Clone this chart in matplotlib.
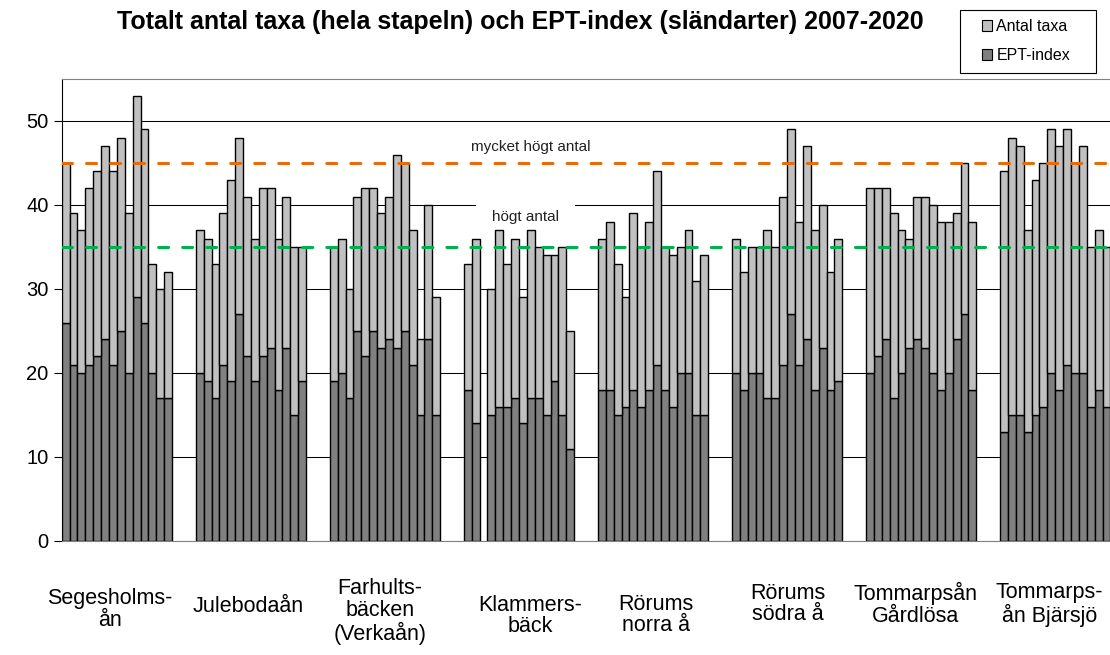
import matplotlib.pyplot as plt
import numpy as np
from matplotlib.patches import Patch, Rectangle

plt.rcParams['font.family'] = ['Liberation Sans', 'DejaVu Sans']
plt.rcParams['lines.scale_dashes'] = False

# one bar per year 2007-2020 for each site
years = [2007, 2008, 2009, 2010, 2011, 2012, 2013, 2014, 2015, 2016, 2017, 2018, 2019, 2020]

sites = ['Segesholms-\nån', 'Julebodaån', 'Farhults-\nbäcken\n(Verkaån)', 'Klammers-\nbäck',
         'Rörums\nnorra å', 'Rörums\nsödra å', 'Tommarpsån\nGårdlösa', 'Tommarps-\nån Bjärsjö']

# total number of taxa (whole bar)
seg_total = [45, 39, 37, 42, 44, 47, 44, 48, 39, 53, 49, 33, 30, 32]
jul_total = [37, 36, 33, 39, 43, 48, 41, 36, 42, 42, 36, 41, 35, 35]
far_total = [35, 36, 30, 41, 42, 42, 39, 41, 46, 45, 37, 24, 40, 29]
kla_total = [33, 36, None, 30, 37, 33, 36, 29, 37, 35, 34, 34, 35, 25]
ron_total = [36, 38, 33, 29, 39, 35, 38, 44, 35, 34, 35, 37, 31, 34]
ros_total = [36, 32, 35, 35, 37, 35, 41, 49, 38, 47, 37, 40, 32, 36]
tog_total = [42, 42, 42, 39, 37, 36, 41, 41, 40, 38, 38, 39, 45, 38]
tob_total = [44, 48, 47, 37, 43, 45, 49, 47, 49, 45, 47, 35, 37, 35]

# EPT-index (dark part)
seg_ept = [26, 21, 20, 21, 22, 24, 21, 25, 20, 29, 26, 20, 17, 17]
jul_ept = [20, 19, 17, 21, 19, 27, 22, 19, 22, 23, 18, 23, 15, 19]
far_ept = [19, 20, 17, 25, 22, 25, 23, 24, 23, 25, 21, 15, 24, 15]
kla_ept = [18, 14, None, 15, 16, 16, 17, 14, 17, 17, 15, 19, 15, 11]
ron_ept = [18, 18, 15, 16, 18, 16, 18, 21, 18, 16, 20, 20, 15, 15]
ros_ept = [20, 18, 20, 20, 17, 17, 21, 27, 21, 24, 18, 23, 18, 19]
tog_ept = [20, 22, 24, 17, 20, 23, 24, 23, 20, 18, 20, 24, 27, 18]
tob_ept = [13, 15, 15, 13, 15, 16, 20, 18, 21, 20, 20, 16, 18, 16]

# reference levels
high = 35
very_high = 45

totals = [seg_total, jul_total, far_total, kla_total, ron_total, ros_total, tog_total, tob_total]
epts = [seg_ept, jul_ept, far_ept, kla_ept, ron_ept, ros_ept, tog_ept, tob_ept]

# where each site label sits relative to its group (pixels)
label_dx = [-7, -3, -5, 11, 3, 1, -6, -6]
label_drop = [68.5, 66, 70.5, 75, 74, 63, 63.5, 63.5]

light = '#C0C0C0'
dark = '#808080'

fig = plt.figure(figsize=(11.1, 6.55), dpi=100)
ax = fig.add_axes([61.7 / 1110, 114 / 655, 1048.7 / 1110, 462 / 655])

gap = 3
step = len(years) + gap
for g in range(len(sites)):
    x = g * step + np.arange(len(years)) + 0.5
    tot = np.array(totals[g], dtype=float)
    ept = np.array(epts[g], dtype=float)
    ax.bar(x, ept, width=1.0, color=dark, edgecolor='black', linewidth=1.0, zorder=3)
    ax.bar(x, tot - ept, bottom=ept, width=1.0, color=light, edgecolor='black',
           linewidth=1.0, zorder=3)
    ax.annotate(sites[g], xy=(g * step + len(years) / 2, 0), xycoords=('data', 'axes fraction'),
                xytext=(label_dx[g], -label_drop[g]), textcoords='offset pixels',
                ha='center', va='center', multialignment='center',
                fontsize=15.5, linespacing=1.05, annotation_clip=False)

nslots = len(sites) * step - gap
ax.set_xlim(0, nslots)
ax.set_ylim(0, 55)

# dashed reference lines
ax.axhline(very_high, color='#E46C0A', linewidth=2.2, dashes=(7.2, 10.1),
           dash_capstyle='round', zorder=4)
ax.axhline(high, color='#00B050', linewidth=2.2, dashes=(7.2, 10.1),
           dash_capstyle='round', zorder=4)
ax.text(59.5, very_high + 1.9, 'mycket högt antal', ha='center', va='center',
        fontsize=11, color='#222222', zorder=2)
ax.text(58.8, high + 3.6, 'högt antal', ha='center', va='center', fontsize=11,
        color='#222222', zorder=2,
        bbox=dict(boxstyle='square,pad=1.05', fc='white', ec='none'))

ax.set_yticks([0, 10, 20, 30, 40, 50])
ax.yaxis.grid(True, color='black', linewidth=0.75, zorder=0)
ax.set_axisbelow(True)
ax.set_xticks([])
ax.tick_params(axis='y', labelsize=14.5, length=6, width=0.8, pad=3.5)

ax.spines['right'].set_visible(False)
ax.spines['top'].set_color('#808080')
ax.spines['bottom'].set_color('#808080')
ax.spines['left'].set_color('black')
for s in ax.spines.values():
    s.set_linewidth(0.8)

fig.text(520 / 1110, 1 - 22 / 655,
         'Totalt antal taxa (hela stapeln) och EPT-index (sländarter) 2007-2020',
         ha='center', va='center', fontsize=18, fontweight='bold')

# legend: wide box drawn separately, entries inside it
fig.patches.append(Rectangle((960 / 1110, 1 - 73 / 655), 136 / 1110, 63 / 655,
                             transform=fig.transFigure, fill=False,
                             edgecolor='black', linewidth=0.8))
handles = [Patch(facecolor=light, edgecolor='black', linewidth=0.8, label='Antal taxa'),
           Patch(facecolor=dark, edgecolor='black', linewidth=0.8, label='EPT-index')]
fig.legend(handles=handles, loc='upper left', bbox_to_anchor=(982 / 1110, 1 - 19 / 655),
           fontsize=11.5, frameon=False, handlelength=0.65, handleheight=0.65,
           handletextpad=0.25, borderpad=0, labelspacing=0.87, borderaxespad=0)

fig.savefig('out.png', dpi=100)
